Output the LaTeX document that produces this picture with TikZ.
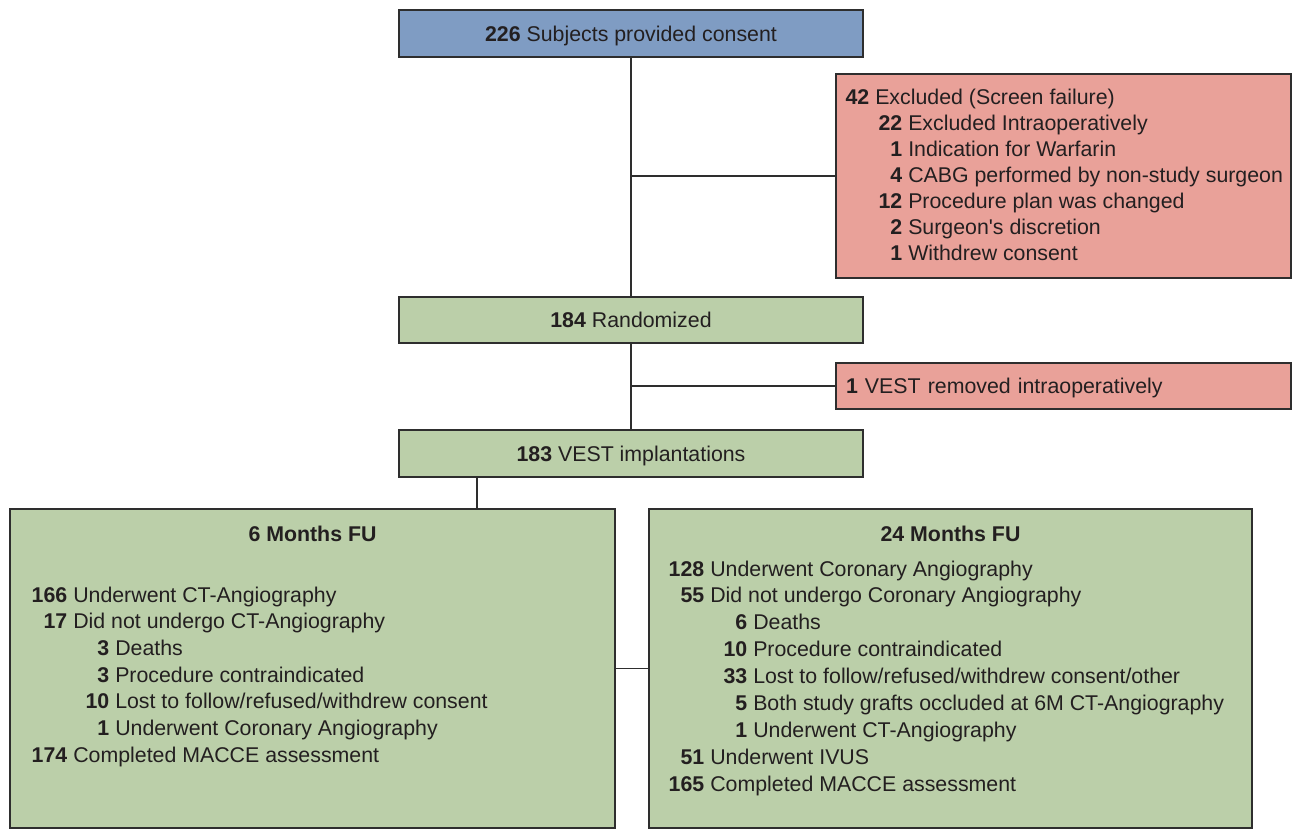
\documentclass[tikz,border=0pt]{standalone}
\usepackage{fontspec}
\setmainfont{Liberation Sans}
\usetikzlibrary{calc}
\definecolor{consentblue}{HTML}{7F9CC3}
\definecolor{exclpink}{HTML}{E9A199}
\definecolor{fugreen}{HTML}{BBCFA9}
\definecolor{edge}{HTML}{2E2E2E}
\definecolor{ink}{HTML}{231F20}
\newdimen\pxu \pxu=0.75pt
\newcommand{\countlist}[5] % {box}{dx}{first baseline}{step}{width/count/label}
{
 \foreach \colw/\cnt/\lbl [count=\i] in {#5}
  \node[listrow] (#1-\i) at ($(#1.north west)+(#2,{#3+#4*(\i-1)})$)
   {\makebox[\colw\pxu][r]{\bfseries\cnt} \lbl};
}
\tikzset{
 flowbox/.style={draw=edge, line width=1.4pt, text=ink, inner sep=0pt,
  font=\fontsize{16}{19}\selectfont, text height=11.5pt, text depth=0pt},
 stepbox/.style={flowbox, fill=fugreen, minimum width=348pt, minimum height=35pt},
 sidebox/.style={flowbox, fill=exclpink, minimum width=341.25pt},
 fubox/.style={flowbox, fill=fugreen, minimum height=239.25pt},
 listrow/.style={anchor=base west, inner sep=0pt, text=ink,
  font=\fontsize{16}{19}\selectfont},
 link/.style={draw=edge, line width=1.1pt}
}

\begin{document}
\begin{tikzpicture}[x=0.75pt, y=-0.75pt]

\useasboundingbox (0,0) rectangle (1293,830);

\def\trunk{631}
\def\side{1063.5}

% main column
\node[stepbox, fill=consentblue, minimum height=35.25pt] (consent) at (\trunk,33.5)
 {\textbf{226} Subjects provided consent};
\node[stepbox] (rand) at (\trunk,320) {\textbf{184} Randomized};
\node[stepbox, minimum height=35.25pt] (impl) at (\trunk,453.5) {\textbf{183} VEST implantations};

% exclusions
\node[sidebox, minimum height=153pt] (excl) at (\side,176) {};
\countlist{excl}{10}{31}{26}{24/42/Excluded (Screen failure),
 57/22/Excluded Intraoperatively, 57/1/Indication for Warfarin,
 57/4/CABG performed by non-study surgeon, 57/12/Procedure plan was changed,
 57/2/Surgeon\textquotesingle s discretion, 57/1/Withdrew consent}
\node[sidebox, minimum height=34.5pt, text width=326.25pt, align=left] (removed) at (\side,386)
 {\textbf{1} VEST removed intraoperatively};

% follow-up
\node[fubox, minimum width=453.75pt] (m6) at (312.5,668.5) {};
\node[listrow, anchor=base, font=\fontsize{16}{19}\selectfont\bfseries] (m6t)
 at ($(m6.north)+(0,33)$) {6 Months FU};
\countlist{m6}{23}{94}{26.67}{35/166/Underwent CT-Angiography,
 35/17/Did not undergo CT-Angiography, 77/3/Deaths, 77/3/Procedure contraindicated,
 77/10/Lost to follow\slash refused\slash withdrew consent,
 77/1/Underwent Coronary Angiography, 35/174/Completed MACCE assessment}

\node[fubox, minimum width=452.25pt] (m24) at (950.5,668.5) {};
\node[listrow, anchor=base, font=\fontsize{16}{19}\selectfont\bfseries] (m24t)
 at ($(m24.north)+(0,33)$) {24 Months FU};
\countlist{m24}{22}{68}{26.9}{34/128/Underwent Coronary Angiography,
 34/55/Did not undergo Coronary Angiography, 77/6/Deaths,
 77/10/Procedure contraindicated,
 77/33/Lost to follow\slash refused\slash withdrew consent\slash other,
 77/5/Both study grafts occluded at 6M CT-Angiography,
 77/1/Underwent CT-Angiography, 34/51/Underwent IVUS,
 34/165/Completed MACCE assessment}

% connectors
\coordinate (drop) at (477,477);
\draw[link] (consent) -- (rand);
\draw[link] (consent |- excl) -- (excl);
\draw[link] (rand) -- (impl);
\draw[link] (rand |- removed) -- (removed);
\draw[link] (impl.south -| drop) -- (m6.north -| drop);
\draw[link] (m6) -- (m24);

\end{tikzpicture}
\end{document}
